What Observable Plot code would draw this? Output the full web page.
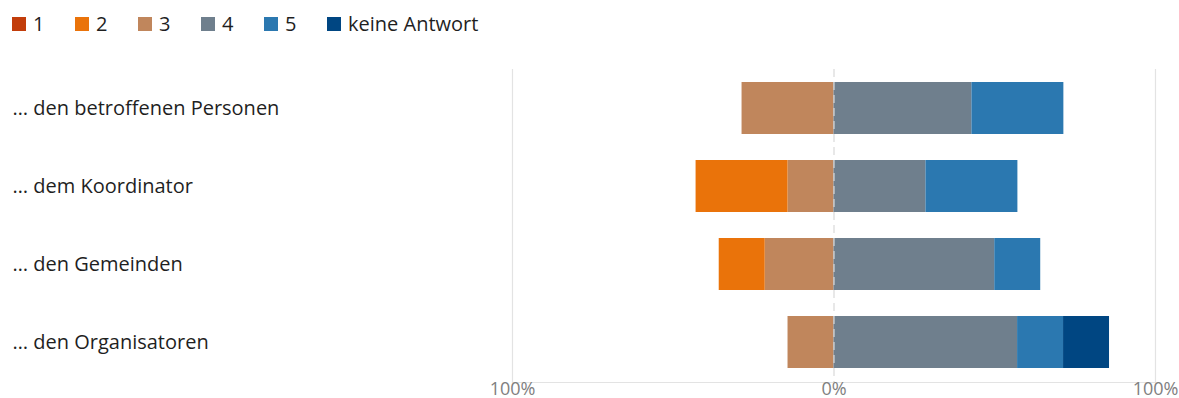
<!DOCTYPE html>
<html>
<head>
<meta charset="utf-8">
<script src="https://cdn.jsdelivr.net/npm/d3@7"></script>
<script src="https://cdn.jsdelivr.net/npm/@observablehq/plot@0.6"></script>
<style>
  html, body { margin: 0; padding: 0; background: #fff; }
  body { width: 1179px; height: 398px; overflow: hidden; font-family: "Open Sans", sans-serif; }
  #legend { height: 38px; display: flex; align-items: center; padding-left: 12px; box-sizing: border-box; padding-top: 10px; }
  .item { display: inline-flex; align-items: center; width: 63px; font-size: 20px; color: #1f1f1f; line-height: 1; }
  .item:last-child { width: auto; }
  .sw { width: 14px; height: 14px; margin-right: 7px; display: inline-block; }
</style>
</head>
<body>
<div id="legend"></div>
<div id="chart"></div>
<script>
const questions = ["… den betroffenen Personen", "… dem Koordinator", "… den Gemeinden", "… den Organisatoren"];
const answers = ["1", "2", "3", "4", "5", "keine Antwort"];
const colors = ["#c23d0b", "#ea730a", "#c0865c", "#6f7f8d", "#2b78b0", "#004682"];
// percent shares per question, in the order of answers
const share1 = [0, 0, 0, 0];
const share2 = [0, 28.6, 14.3, 0];
const share3 = [28.6, 14.3, 21.4, 14.3];
const share4 = [42.9, 28.6, 50.0, 57.1];
const share5 = [28.6, 28.6, 14.3, 14.3];
const shareNA = [0, 0, 0, 14.3];
const xTicks = [-100, 0, 100];

const shares = {"1": share1, "2": share2, "3": share3, "4": share4, "5": share5, "keine Antwort": shareNA};
const negative = new Set(["1", "2", "3"]);
// stacking order: negative side from zero outward (3,2,1), then positive (4,5,keine)
const stackOrder = ["3", "2", "1", "4", "5", "keine Antwort"];
const rows = [];
for (const a of stackOrder) {
  questions.forEach((q, i) => {
    const v = shares[a][i];
    if (v > 0) rows.push({question: q, answer: a, value: negative.has(a) ? -v : v});
  });
}

// legend
const leg = document.getElementById("legend");
answers.forEach((a, i) => {
  const it = document.createElement("span");
  it.className = "item";
  it.innerHTML = `<span class="sw" style="background:${colors[i]}"></span>${a}`;
  leg.appendChild(it);
});

const chart = Plot.plot({
  width: 1179,
  height: 360,
  marginLeft: 512,
  marginRight: 24,
  marginTop: 31,
  marginBottom: 16,
  style: {fontFamily: "Open Sans, sans-serif", background: "#fff", overflow: "visible"},
  x: {domain: [-100, 100], ticks: xTicks, tickFormat: d => Math.abs(d) + "%", label: null},
  y: {domain: questions, paddingInner: 0.333, paddingOuter: 0.1667, axis: null},
  color: {domain: answers, range: colors},
  marks: [
    Plot.ruleX([-100, 100], {stroke: "#e3e3e3", strokeWidth: 1.2}),
    Plot.frame({anchor: "bottom", stroke: "#e3e3e3", strokeWidth: 1.2}),
    Plot.barX(rows, Plot.stackX({x: "value", y: "question", fill: "answer", order: null})),
    Plot.ruleX([0], {stroke: "#d9d9d9", strokeWidth: 1.2, strokeDasharray: "8,5"}),
    Plot.text(questions, {y: d => d, frameAnchor: "left", dx: -500, textAnchor: "start", fontSize: 20, fill: "#1f1f1f"}),
    Plot.axisX({ticks: xTicks, tickFormat: d => Math.abs(d) + "%", tickSize: 0, tickPadding: 0, fontSize: 18, color: "#808080", label: null})
  ]
});
document.getElementById("chart").appendChild(chart);
</script>
</body>
</html>
